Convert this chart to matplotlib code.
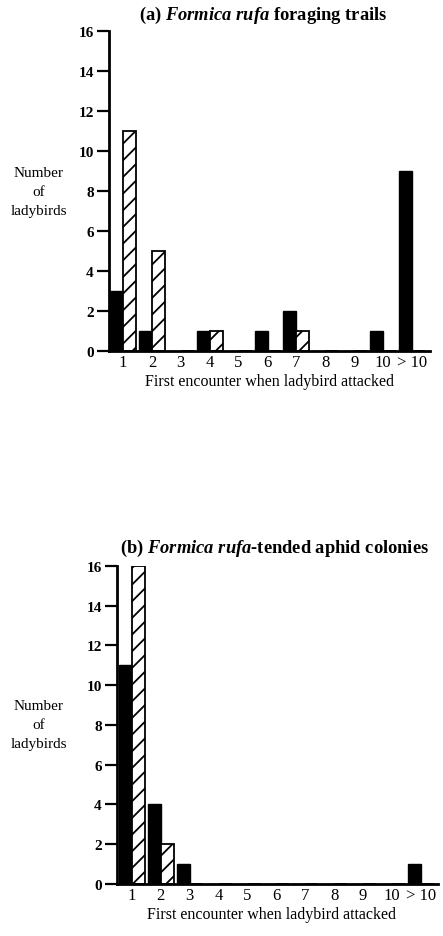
import numpy as np
import matplotlib.pyplot as plt

plt.rcParams['font.family'] = 'Liberation Serif'
plt.rcParams['mathtext.fontset'] = 'custom'
plt.rcParams['mathtext.rm'] = 'Liberation Serif:bold'
plt.rcParams['mathtext.it'] = 'Liberation Serif:italic:bold'
plt.rcParams['hatch.linewidth'] = 1.3

categories = ['1', '2', '3', '4', '5', '6', '7', '8', '9', '10', '> 10']

# (a) foraging trails
trail_black = [3, 1, 0, 1, 0, 1, 2, 0, 0, 1, 9]
trail_hatch = [11, 5, 0, 1, 0, 0, 1, 0, 0, 0, 0]

# (b) tended aphid colonies
colony_black = [11, 4, 1, 0, 0, 0, 0, 0, 0, 0, 1]
colony_hatch = [16, 2, 0, 0, 0, 0, 0, 0, 0, 0, 0]

titles = [r'(a) $\mathit{Formica\ rufa}$ foraging trails',
          r'(b) $\mathit{Formica\ rufa}$-tended aphid colonies']


def panel(fig, rect, black, hatch, title, title_x, title_y, xlo, xhi, lab_x):
    ax = fig.add_axes(rect)
    x = np.arange(1, len(categories) + 1)
    w = 0.45
    ax.bar(x - w / 2, black, w, color='black', edgecolor='black', linewidth=1)
    ax.bar(x + w / 2, hatch, w, color='white', edgecolor='black',
           linewidth=1.3, hatch='//')
    ax.set_xlim(xlo, xhi)
    ax.set_ylim(0, 16)
    ax.set_yticks(range(0, 17, 2))
    ax.set_xticks(x)
    ax.set_xticklabels(categories, fontsize=12)
    ax.tick_params(axis='x', length=0, pad=2)
    ax.tick_params(axis='y', length=9, width=1.6, labelsize=11, pad=2)
    for lab in ax.get_yticklabels():
        lab.set_fontweight('bold')
    for s in ['top', 'right']:
        ax.spines[s].set_visible(False)
    for s in ['left', 'bottom']:
        ax.spines[s].set_linewidth(2)
    ax.set_xlabel('First encounter when ladybird attacked', fontsize=11.5)
    ax.xaxis.set_label_coords(lab_x, -0.068)
    ycen = rect[1] + rect[3] / 2
    fig.text(0.087, ycen, 'Number\nof\nladybirds', ha='center', va='center',
             fontsize=11, linespacing=1.6)
    fig.text(title_x, title_y, title, ha='center', va='center',
             fontsize=13.3, fontweight='bold')
    return ax


fig = plt.figure(figsize=(4.43, 9.37), dpi=100)
panel(fig, [0.246, 0.6243, 0.7246, 0.3415], trail_black, trail_hatch,
      titles[0], 0.595, 0.984, 0.515, 11.62, 0.5)
panel(fig, [0.264, 0.0555, 0.7246, 0.3394], colony_black, colony_hatch,
      titles[1], 0.62, 0.415, 0.48, 11.59, 0.483)
fig.savefig('out.png', dpi=100)
